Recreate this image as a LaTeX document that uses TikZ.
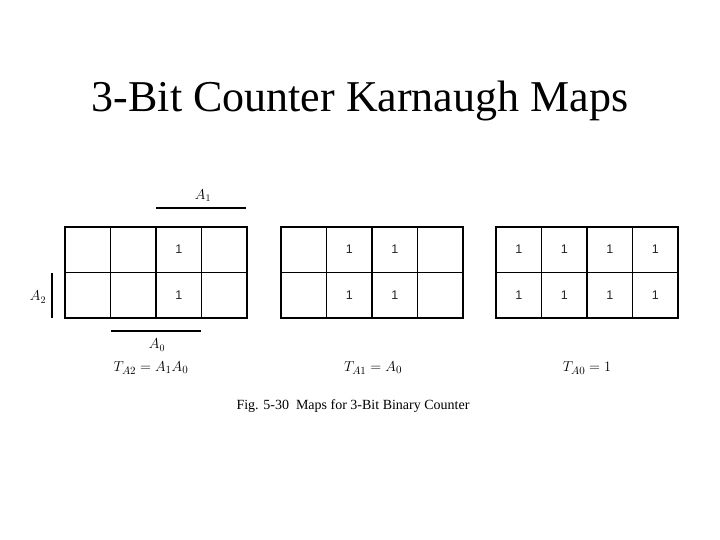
\documentclass[tikz,border=0pt]{standalone}
\usepackage{fontspec}
\setmainfont{Liberation Serif}
\setsansfont{Liberation Sans}
\usetikzlibrary{positioning}

\begin{document}
\begin{tikzpicture}[x=1pt, y=-1pt, every node/.style={inner sep=0pt},
    cellline/.style={line width=1.3pt},
    barline/.style={line width=1.2pt},
    entry/.style={font=\sffamily\fontsize{12.5}{14}\selectfont, color=black!85},
    varlabel/.style={font=\fontsize{14}{16}\selectfont},
    funclabel/.style={font=\fontsize{15}{17}\selectfont}]
    \useasboundingbox (0,0) rectangle (720,540);

    % Title
    \node[font=\fontsize{44}{50}\selectfont, anchor=base] (title) at (360,112) {3-Bit Counter Karnaugh Maps};

    % Map grids
    \foreach \m/\cx in {a/65, b/281, c/496} {
        \draw[cellline] (\cx,227) rectangle (\cx+182,318);
        \draw[cellline] (\cx,272.5) -- (\cx+182,272.5);
        \foreach \i in {1,2,3} {
            \draw[cellline] (\cx+45.5*\i,227) -- (\cx+45.5*\i,318);
        }
        \coordinate (map\m) at (\cx,227);
    }

    % Entries of T_A2
    \foreach \r in {0,1} {
        \node[entry] (a2\r) at (65+22.75+45.5*2, 249.5+46*\r) {1};
    }
    % Entries of T_A1
    \foreach \c in {1,2} {
        \foreach \r in {0,1} {
            \node[entry] (b\c\r) at (281+22.75+45.5*\c, 249.5+46*\r) {1};
        }
    }
    % Entries of T_A0
    \foreach \c in {0,1,2,3} {
        \foreach \r in {0,1} {
            \node[entry] (c\c\r) at (496+22.75+45.5*\c, 249.5+46*\r) {1};
        }
    }

    % Variable bars
    \coordinate (a1s) at (156,208);
    \coordinate (a1e) at (246,208);
    \draw[barline] (a1s) -- (a1e);
    \node[varlabel] (lA1) at (203,196) {$A_1$};

    \coordinate (a0s) at (111,331);
    \coordinate (a0e) at (201,331);
    \draw[barline] (a0s) -- (a0e);
    \node[varlabel] (lA0) at (157,345) {$A_0$};

    \coordinate (a2s) at (52,273);
    \coordinate (a2e) at (52,318);
    \draw[barline] (a2s) -- (a2e);
    \node[varlabel] (lA2) at (38,297) {$A_2$};

    % Functions
    \node[funclabel] (fa) at (151,368) {$T_{A2} = A_1 A_0$};
    \node[funclabel] (fb) at (373,368) {$T_{A1} = A_0$};
    \node[funclabel] (fc) at (587,368) {$T_{A0} = 1$};

    % Caption
    \node[font=\fontsize{14}{16}\selectfont, anchor=base] (caption) at (353,409) {Fig. 5-30\enspace Maps for 3-Bit Binary Counter};
\end{tikzpicture}
\end{document}
